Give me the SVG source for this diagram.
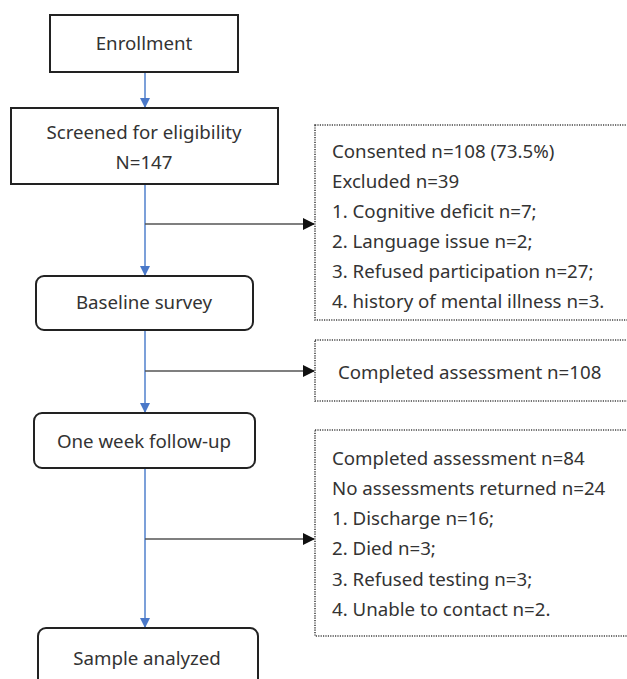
<svg xmlns="http://www.w3.org/2000/svg" width="627" height="679" viewBox="0 0 627 679">
<style>
text{font-family:"Noto Sans","Liberation Sans",sans-serif;font-size:18.7px;fill:#333}
.c{text-anchor:middle}
.box{fill:#fff;stroke:#222;stroke-width:2}
.dot{fill:#fff;stroke:#444;stroke-width:1.6;stroke-dasharray:1.2 1.2}
.v{stroke:#5080cc;stroke-width:1.5;fill:none}
.h{stroke:#555;stroke-width:1.5;fill:none}
</style>
<defs>
<marker id="ab" markerWidth="10" markerHeight="10" refX="9" refY="5" orient="auto" markerUnits="userSpaceOnUse"><path d="M0,0 L10,5 L0,10 Z" fill="#4a78c8"/></marker>
<marker id="ak" markerWidth="12" markerHeight="12" refX="11" refY="6" orient="auto" markerUnits="userSpaceOnUse"><path d="M0,0 L12,6 L0,12 Z" fill="#111"/></marker>
</defs>
<g id="connectors">
<line class="v" x1="145" y1="72" x2="145" y2="107" marker-end="url(#ab)"/>
<line class="v" x1="145" y1="184" x2="145" y2="275" marker-end="url(#ab)"/>
<line class="h" x1="145" y1="224" x2="314" y2="224" marker-end="url(#ak)"/>
<line class="v" x1="145" y1="330" x2="145" y2="412" marker-end="url(#ab)"/>
<line class="h" x1="145" y1="371" x2="314" y2="371" marker-end="url(#ak)"/>
<line class="v" x1="145" y1="468" x2="145" y2="627" marker-end="url(#ab)"/>
<line class="h" x1="145" y1="539" x2="314" y2="539" marker-end="url(#ak)"/>
</g>
<g id="enrollment">
<rect class="box" x="50" y="15" width="188" height="57"/>
<text class="c" x="144" y="50">Enrollment</text>
</g>
<g id="screened">
<rect class="box" x="11" y="108" width="267" height="76"/>
<text class="c" x="144" y="139">Screened for eligibility</text>
<text class="c" x="144" y="169">N=147</text>
</g>
<g id="excluded">
<rect class="dot" x="315" y="125" width="330" height="195"/>
<text x="332" y="158">Consented n=108 (73.5%)</text>
<text x="332" y="188">Excluded n=39</text>
<text x="332" y="218">1. Cognitive deficit n=7;</text>
<text x="332" y="248">2. Language issue n=2;</text>
<text x="332" y="278">3. Refused participation n=27;</text>
<text x="332" y="308">4. history of mental illness n=3.</text>
</g>
<g id="baseline">
<rect class="box" x="36" y="276" width="217" height="54" rx="8"/>
<text class="c" x="144" y="309">Baseline survey</text>
</g>
<g id="completed108">
<rect class="dot" x="315" y="340" width="330" height="61"/>
<text x="338" y="379">Completed assessment n=108</text>
</g>
<g id="followup">
<rect class="box" x="34" y="413" width="221" height="55" rx="8"/>
<text class="c" x="144" y="448">One week follow-up</text>
</g>
<g id="completed84">
<rect class="dot" x="315" y="430" width="330" height="206"/>
<text x="332" y="465">Completed assessment n=84</text>
<text x="332" y="495">No assessments returned n=24</text>
<text x="332" y="525">1. Discharge n=16;</text>
<text x="332" y="555">2. Died n=3;</text>
<text x="332" y="586">3. Refused testing n=3;</text>
<text x="332" y="616">4. Unable to contact n=2.</text>
</g>
<g id="sample">
<rect class="box" x="38" y="628" width="220" height="70" rx="8"/>
<text class="c" x="147" y="665">Sample analyzed</text>
</g>
</svg>
